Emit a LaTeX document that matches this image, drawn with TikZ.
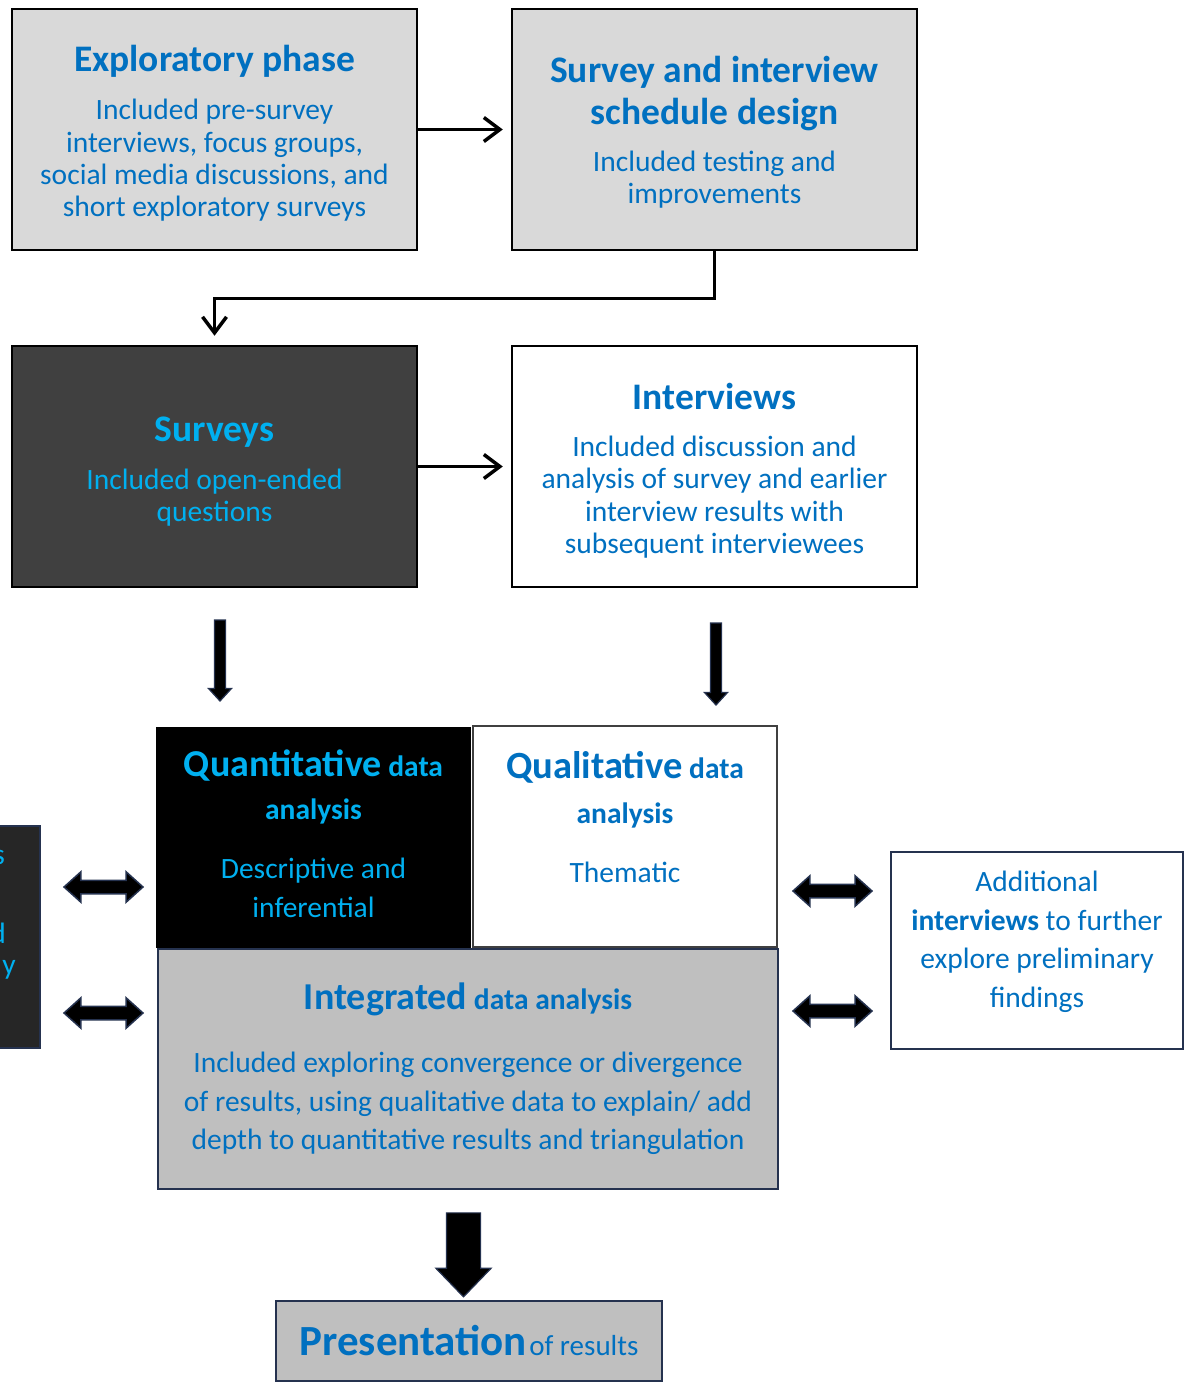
\documentclass[tikz,border=0pt]{standalone}
\usepackage{fontspec}
\setmainfont{Carlito}
\usetikzlibrary{positioning,shapes.arrows,arrows.meta}

\definecolor{textblue}{HTML}{0070C0}
\definecolor{lightblue}{HTML}{00B0F0}
\definecolor{boxgrey}{HTML}{D9D9D9}
\definecolor{midgrey}{HTML}{BFBFBF}
\definecolor{darkgrey}{HTML}{404040}
\definecolor{nearblack}{HTML}{262626}
\definecolor{navyline}{HTML}{25324F}

\newcommand{\headfont}{\fontsize{37.5}{42}\selectfont\bfseries}
\newcommand{\bigfont}{\fontsize{38}{42}\selectfont\bfseries}
\newcommand{\bodyfont}{\fontsize{29.5}{32.3}\selectfont}
\newcommand{\lowfont}{\fontsize{29.5}{38.7}\selectfont}

\begin{document}
\begin{tikzpicture}[
        x=1pt, y=-1pt,
        >={Straight Barb[length=16pt,width=24pt]},
        phase/.style={draw=black, line width=2.5pt, minimum width=405pt,
            minimum height=241pt, align=center, inner sep=0pt, text=textblue, font=\bodyfont},
        flow/.style={line width=3.5pt, ->, shorten >=8pt},
        fatdown/.style={single arrow, draw=navyline, fill=black, line width=1.2pt,
            rotate=-90, inner xsep=0pt, minimum width=0pt},
        fatboth/.style={double arrow, draw=navyline, fill=black, line width=1.5pt,
            inner xsep=0pt, inner ysep=6pt, minimum width=0pt, minimum height=79pt,
            double arrow head extend=8.5pt, double arrow tip angle=84}
    ]
    \useasboundingbox (0,0) rectangle (1192,1383);

    % top row
    \node [phase, fill=boxgrey] (explore) at (214.5,129.5)
        {\mbox{}\\[2pt] {\headfont Exploratory phase}\\[16pt]
         Included pre-survey\\ interviews, focus groups,\\
         social media discussions, and\\ short exploratory surveys};
    \node [phase, fill=boxgrey] (design) at (714.5,129.5)
        {\mbox{}\\[0pt] {\headfont Survey and interview}\\[9pt] {\headfont schedule design}\\[15pt]
         Included testing and\\ improvements};

    % second row
    \node [phase, fill=darkgrey, text=lightblue] (surveys) at (214.5,466.5)
        {\mbox{}\\[3pt] {\headfont Surveys}\\[15pt]
         Included open-ended\\ questions};
    \node [phase, fill=white] (interviews) at (714.5,466.5)
        {\mbox{}\\[2pt] {\headfont Interviews}\\[15pt]
         Included discussion and\\ analysis of survey and earlier\\
         interview results with\\ subsequent interviewees};

    \draw[flow] (explore) -- (design);
    \draw[flow, shorten >=9pt] (design.south) -- ++(0,47) -| (surveys.north);
    \draw[flow] (surveys) -- (interviews);

    \node [fatdown, minimum height=81pt, inner ysep=5pt, single arrow head extend=6pt,
        single arrow tip angle=85] (downquan) at (220,657.5) {};
    \node [fatdown, minimum height=82pt, inner ysep=5pt, single arrow head extend=6pt,
        single arrow tip angle=85] (downqual) at (716,661) {};

    % analysis block
    \node [draw=navyline, line width=2.5pt, fill=midgrey, minimum width=620pt,
        minimum height=240pt, align=center, text=textblue, inner sep=0pt, font=\lowfont] (integrated) at (468,1069)
        {\bfseries{\bigfont Integrated} data analysis\\[24pt]
         Included exploring convergence or divergence\\
         of results, using qualitative data to explain/ add\\
         depth to quantitative results and triangulation};
    \node [draw=black, line width=1.5pt, fill=black, minimum width=313pt, minimum height=219pt,
        align=center, text=lightblue, inner sep=0pt, font=\lowfont] (quan) at (313.5,837.5)
        {\bfseries{\bigfont Quantitative} data\\[4pt]
         \bfseries analysis\\[20pt]
         Descriptive and\\ inferential\\[-31pt] \mbox{}};
    \node [draw=darkgrey, line width=2pt, fill=white, minimum width=304pt, minimum height=221pt,
        align=center, text=textblue, inner sep=0pt, font=\lowfont] (qual) at (625,836.5)
        {\bfseries{\fontsize{38.5}{42}\selectfont Qualitative} data\\[6pt]
         \bfseries analysis\\[20pt]
         Thematic\\[0pt] \mbox{}};

    % side boxes
    \node [draw=navyline, line width=2.5pt, fill=white, minimum width=292pt, minimum height=197pt,
        align=center, text=textblue, inner sep=0pt, font=\lowfont] (further) at (1037,950.5)
        {Additional\\ \textbf{interviews} to further\\
         explore preliminary\\ findings\\[-16pt] \mbox{}};
    \node [draw=navyline, line width=2pt, fill=nearblack, minimum width=200pt,
        minimum height=222pt, inner sep=0pt] (earlier) at (-60,937) {};
    \node [text=lightblue, anchor=east, inner sep=0pt, font=\lowfont] (earliera) at (5,857) {s};
    \node [text=lightblue, anchor=east, inner sep=0pt, font=\lowfont] (earlierb) at (6,933) {d};
    \node [text=lightblue, anchor=east, inner sep=0pt, font=\lowfont] (earlierc) at (16,970) {y};

    \node [fatboth] (leftup) at (103.5,887) {};
    \node [fatboth] (leftdown) at (103.5,1013) {};
    \node [fatboth] (rightup) at (832.5,891) {};
    \node [fatboth] (rightdown) at (832.5,1011) {};

    % results
    \node [fatdown, minimum height=84pt, inner ysep=16.5pt, single arrow head extend=10.5pt,
        single arrow tip angle=88] (toresults) at (463.5,1246) {};
    \node [draw=navyline, line width=2pt, fill=midgrey, minimum width=386pt, minimum height=80pt,
        text=textblue, inner sep=0pt] (present) at (469,1340.5)
        {{\fontsize{43}{48}\selectfont\bfseries Presentation} {\fontsize{29}{34}\selectfont of results}};
\end{tikzpicture}
\end{document}
